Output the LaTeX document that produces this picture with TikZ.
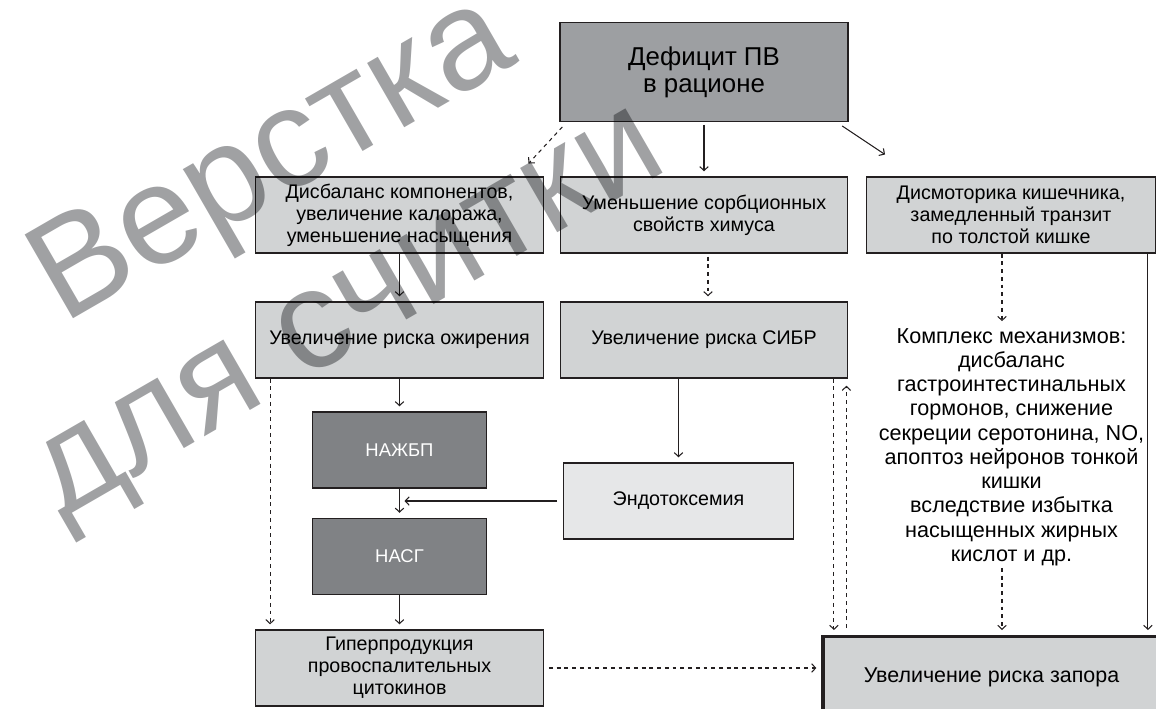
\documentclass[tikz,border=0pt]{standalone}
\usepackage{fontspec}
\setmainfont{Liberation Sans}
\usetikzlibrary{arrows.meta}
\definecolor{lineg}{RGB}{35,31,32}
\definecolor{topg}{RGB}{157,159,162}
\definecolor{boxg}{RGB}{209,211,212}
\definecolor{darkg}{RGB}{128,130,133}
\definecolor{endog}{RGB}{230,231,232}
\definecolor{markg}{RGB}{160,161,163}
\tikzset{
    lbox/.style={draw=lineg, line width=0.8pt, fill=boxg, align=center, inner sep=0pt,
        minimum width=5.75cm, minimum height=1.52cm, font=\fontsize{11.2}{12.5}\selectfont},
    topbox/.style={lbox, fill=topg, minimum width=5.76cm, minimum height=1.97cm, font=\fontsize{14.7}{16.5}\selectfont},
    darkbox/.style={lbox, fill=darkg, text=white, minimum width=3.48cm, font=\fontsize{10.5}{12}\selectfont},
    endobox/.style={lbox, fill=endog, minimum width=4.59cm},
    riskbox/.style={lbox, line width=1.9pt, minimum width=6.74cm, minimum height=1.64cm, font=\fontsize{12.2}{14}\selectfont},
    arr/.style={draw=lineg, line width=0.6pt, -{Straight Barb[length=0.08cm,width=0.17cm]}, shorten >=0.1cm},
    darr/.style={arr, dash pattern=on 2.2pt off 2.2pt},
    wmark/.style={text=markg, font=\fontsize{80}{90}\selectfont, anchor=base west, rotate=30, inner sep=0pt},
}
\begin{document}
\begin{tikzpicture}[x=0.02cm,y=-0.02cm]
\useasboundingbox (0,0) rectangle (1156,708);
\node[topbox] (def) at (704,72) {\raisebox{-0.04cm}{\shortstack{Дефицит ПВ\\[0.05cm]в рационе}}};
\node[lbox] (dis) at (399.5,215) {Дисбаланс компонентов,\\увеличение калоража,\\уменьшение насыщения};
\node[lbox] (sorb) at (704,215) {Уменьшение сорбционных\\свойств химуса};
\node[lbox, minimum width=5.77cm] (mot) at (1011,215) {Дисмоторика кишечника,\\замедленный транзит\\по толстой кишке};
\node[lbox] (obes) at (399.5,340) {Увеличение риска ожирения};
\node[lbox] (sibr) at (704,340) {Увеличение риска СИБР};
\node[darkbox] (nafld) at (399.5,450) {НАЖБП};
\node[darkbox] (nash) at (399.5,556.5) {НАСГ};
\node[endobox] (endo) at (678.5,501) {Эндотоксемия};
\node[lbox] (hyper) at (399.5,668) {Гиперпродукция\\провоспалительных\\цитокинов};
\node[riskbox, anchor=north] (risk) at (991.5,635) {\raisebox{0.1cm}{Увеличение риска запора}};
\node[align=center, inner sep=1pt, font=\fontsize{12.3}{13.8}\selectfont] (mech) at (1011.5,447) {Комплекс механизмов:\\дисбаланс\\гастроинтестинальных\\гормонов, снижение\\секреции серотонина, NO,\\апоптоз нейронов тонкой\\кишки\\вследствие избытка\\насыщенных жирных\\кислот и др.};
\coordinate (disin) at (528.5,163.5);
\coordinate (motin) at (885,154.5);
\draw[arr, shorten <=0.06cm] (def) -- (sorb);
\draw[darr, shorten >=0pt] ([xshift=0.06cm,yshift=-0.1cm]def.south west) -- (disin);
\draw[arr, shorten >=0pt] ([xshift=-0.13cm,yshift=-0.08cm]def.south east) -- (motin);
\draw[arr] (dis) -- (obes);
\draw[darr, shorten <=0.06cm] ([xshift=0.08cm]sorb.south) -- ([xshift=0.08cm]sibr.north);
\draw[arr] (obes) -- (nafld);
\draw[arr] (nafld) -- (nash);
\draw[arr] (nash) -- (hyper);
\draw[darr] ([xshift=0.3cm]obes.south west) -- ([xshift=0.3cm]hyper.north west);
\draw[arr, shorten <=0.12cm] (endo) -- (endo -| nash);
\draw[arr] (sibr.south -| endo.north) -- (endo.north);
\draw[darr] ([xshift=-0.18cm]mot.south) -- ([xshift=-0.18cm]mot.south |- mech.north);
\draw[darr] ([xshift=-0.18cm]mot.south |- mech.south) -- ([xshift=-0.18cm]mot.south |- risk.north);
\draw[arr] ([xshift=-0.16cm]mot.south east) -- ([xshift=-0.16cm]mot.south east |- risk.north);
\draw[darr] ([xshift=-0.29cm]sibr.south east) -- ([xshift=-0.29cm]sibr.south east |- risk.north);
\draw[darr, shorten <=0.14cm, shorten >=0.14cm] ([xshift=-0.04cm]sibr.south east |- risk.north) -- ([xshift=-0.04cm]sibr.south east);
\draw[darr, shorten <=0.1cm] (hyper) -- (hyper -| risk.west);
\begin{scope}[blend mode=multiply]
\node[wmark] (wm1) at (63,325) {Верстка};
\node[wmark] (wm2) at (61,520) {для считки};
\end{scope}
\end{tikzpicture}
\end{document}
